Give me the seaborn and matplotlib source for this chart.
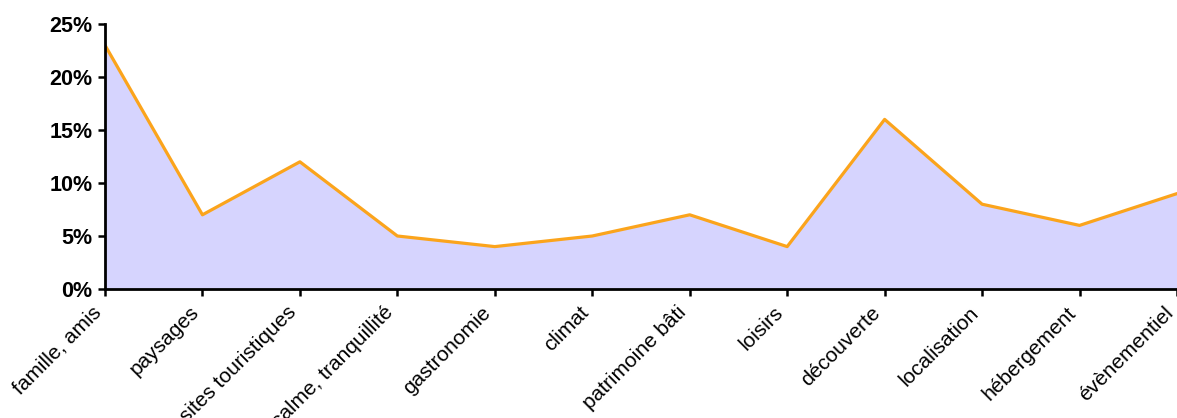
import matplotlib
matplotlib.use("Agg")
import matplotlib.pyplot as plt
import seaborn as sns
import numpy as np
import pandas as pd
from matplotlib.ticker import FuncFormatter

categories = ["famille, amis", "paysages", "sites touristiques", "calme, tranquillité",
              "gastronomie", "climat", "patrimoine bâti", "loisirs", "découverte",
              "localisation", "hébergement", "évènementiel"]
shares = [23, 7, 12, 5, 4, 5, 7, 4, 16, 8, 6, 9]
y_ticks = [0, 5, 10, 15, 20, 25]

sns.set_theme(style="white")
plt.rcParams["font.family"] = ["Liberation Sans", "DejaVu Sans"]

df = pd.DataFrame({"pos": np.arange(len(categories)), "share": shares, "label": categories})

fig = plt.figure(figsize=(11.77, 4.18), dpi=100)
ax = fig.add_axes([0.0892, 0.3086, 0.9108, 0.634])

# shaded area under the curve, then the outline on top
ax.fill_between(df["pos"], 0, df["share"], color="#D6D4FE", linewidth=0, zorder=1)
sns.lineplot(data=df, x="pos", y="share", color="#FBA41C", linewidth=2.3, ax=ax, zorder=2)

ax.set_xlim(0, len(categories) - 1)
ax.set_ylim(0, 25)
ax.set_yticks(y_ticks)
ax.yaxis.set_major_formatter(FuncFormatter(lambda v, _: f"{int(v)}%"))
ax.set_xticks(df["pos"])
ax.set_xticklabels(categories, rotation=45, ha="right", fontsize=15, color="black")
for t in ax.get_yticklabels():
    t.set_fontweight("bold")
    t.set_fontsize(15.5)
    t.set_color("black")
ax.set_xlabel("")
ax.set_ylabel("")

for side in ["top", "right"]:
    ax.spines[side].set_visible(False)
for side in ["left", "bottom"]:
    ax.spines[side].set_color("black")
    ax.spines[side].set_linewidth(2)
ax.tick_params(axis="both", which="both", direction="out", length=5, width=1.8,
               color="black", left=True, bottom=True)
ax.tick_params(axis="y", pad=4)
ax.tick_params(axis="x", pad=5)
ax.spines["bottom"].set_zorder(3)

fig.savefig("out.png", dpi=100)
